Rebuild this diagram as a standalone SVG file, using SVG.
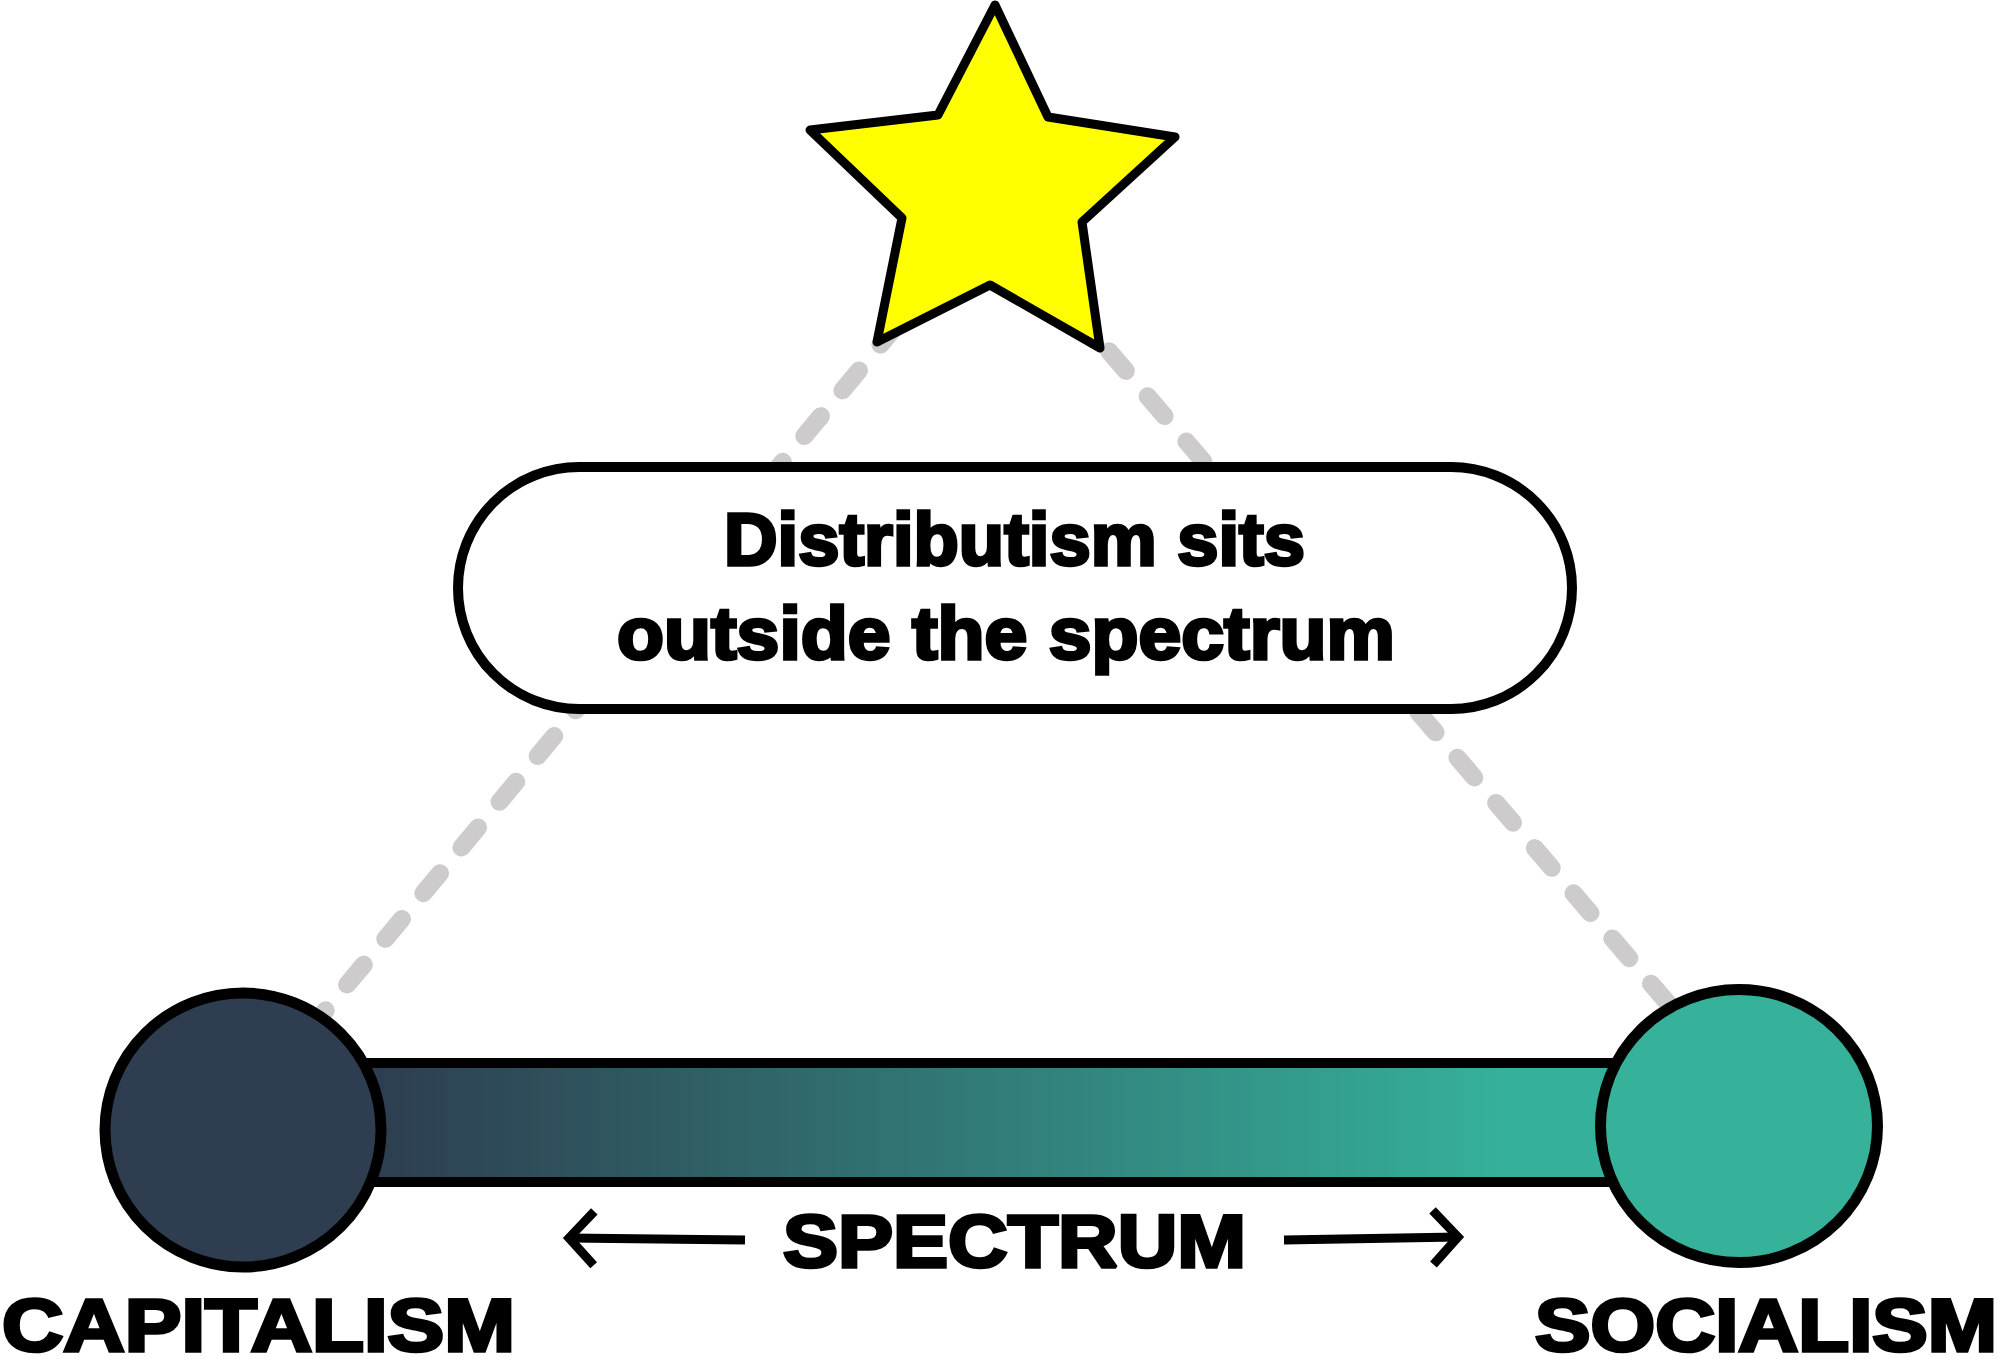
<svg xmlns="http://www.w3.org/2000/svg" width="2000" height="1359" viewBox="0 0 2000 1359">
  <defs>
    <style>
      .dash { fill: none; stroke: #cdcbcc; stroke-width: 18; stroke-linecap: round; stroke-dasharray: 26 33.5; }
      .outline { stroke: #000; stroke-width: 10; }
      .lbl { font-family: "Liberation Sans", Arial, "DejaVu Sans", sans-serif; font-weight: bold; fill: #000; stroke: #000; stroke-width: 3.5; stroke-linejoin: miter; stroke-miterlimit: 2; }
      .arrow { fill: none; stroke: #000; stroke-width: 9; }
    </style>
    <linearGradient id="spectrumGrad" gradientUnits="userSpaceOnUse" x1="380" y1="0" x2="1500" y2="0">
      <stop offset="0" stop-color="#2d3e50"/>
      <stop offset="1" stop-color="#35b09a"/>
    </linearGradient>
    <marker id="chev" markerUnits="userSpaceOnUse" viewBox="-40 -40 60 80" refX="0" refY="0" markerWidth="60" markerHeight="80" orient="auto" overflow="visible">
      <path d="M-25,-27 L0,0 L-25,27" fill="none" stroke="#000" stroke-width="9" stroke-linejoin="miter"/>
    </marker>
  </defs>

  <rect x="0" y="0" width="2000" height="1359" fill="#ffffff"/>

  <g id="connectors">
    <path class="dash" d="M935.2,279 L226,1130"/>
    <path class="dash" d="M1031.5,260.8 L1773,1126"/>
  </g>

  <g id="spectrum-bar">
    <rect x="300" y="1063" width="1380" height="119" fill="url(#spectrumGrad)" class="outline"/>
  </g>

  <g id="capitalism">
    <ellipse cx="243" cy="1130" rx="138" ry="137" fill="#2e3e50" stroke="#000" stroke-width="11"/>
    <text class="lbl" x="2" y="1351" font-size="74" textLength="513" lengthAdjust="spacingAndGlyphs">CAPITALISM</text>
  </g>

  <g id="socialism">
    <ellipse cx="1739" cy="1126" rx="138.5" ry="136.5" fill="#36b29a" stroke="#000" stroke-width="11"/>
    <text class="lbl" x="1535" y="1351" font-size="74" textLength="462" lengthAdjust="spacingAndGlyphs">SOCIALISM</text>
  </g>

  <g id="spectrum-label">
    <path class="arrow" d="M745,1240 L569,1238" marker-end="url(#chev)"/>
    <path class="arrow" d="M1284,1240 L1458,1237" marker-end="url(#chev)"/>
    <text class="lbl" x="783" y="1267" font-size="75" textLength="463" lengthAdjust="spacingAndGlyphs">SPECTRUM</text>
  </g>

  <g id="distributism-box">
    <rect x="458" y="467" width="1114" height="242" rx="121" ry="121" fill="#ffffff" class="outline"/>
    <text class="lbl" x="724" y="565" font-size="75" textLength="581" lengthAdjust="spacingAndGlyphs">Distributism sits</text>
    <text class="lbl" x="617" y="659" font-size="75" textLength="778" lengthAdjust="spacingAndGlyphs">outside the spectrum</text>
  </g>

  <g id="distributism-star">
    <polygon points="995,5 1048,117 1175,137 1082,222 1100,348 990,285 877,342 902,218 810,130 938,115" fill="#ffff00" stroke="#000" stroke-width="9" stroke-linejoin="round"/>
  </g>
</svg>
